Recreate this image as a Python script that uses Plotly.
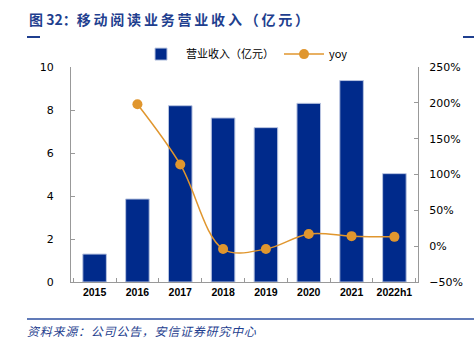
import plotly.graph_objects as go

categories = ["2015", "2016", "2017", "2018", "2019", "2020", "2021", "2022h1"]
revenue = [1.3, 3.86, 8.2, 7.63, 7.18, 8.31, 9.37, 5.04]
yoy = [None, 1.98, 1.14, -0.04, -0.04, 0.17, 0.14, 0.13]

BAR = "#002A8B"
ORANGE = "#E0962E"
FONT = "Noto Sans CJK SC"

fig = go.Figure()
fig.add_trace(go.Bar(
    x=categories, y=revenue, name="营业收入（亿元）",
    marker=dict(color=BAR, line=dict(color="#B8C4E0", width=1)),
    width=0.55, yaxis="y",
))
fig.add_trace(go.Scatter(
    x=categories, y=yoy, name="yoy", yaxis="y2",
    mode="lines+markers",
    line=dict(color=ORANGE, width=1.5, shape="spline", smoothing=1.0),
    marker=dict(color=ORANGE, size=10),
))

fig.update_layout(
    width=474, height=339,
    margin=dict(l=71, r=56, t=67, b=57),
    paper_bgcolor="white", plot_bgcolor="white",
    font=dict(family=FONT, size=11, color="#000"),
    showlegend=True,
    legend=dict(orientation="h", x=0.5, xanchor="center", y=1.06, yanchor="middle",
                font=dict(size=11), bgcolor="rgba(0,0,0,0)", itemwidth=40,
                traceorder="normal"),
    xaxis=dict(
        showline=True, linecolor="#999", linewidth=1,
        ticks="inside", ticklen=4, tickcolor="#999",
        tickson="boundaries", tickangle=0,
        tickfont=dict(size=10.5, family="Liberation Sans", color="#000", weight="bold"),
        showgrid=False, zeroline=False,
    ),
    yaxis=dict(
        range=[0, 10], dtick=2, showline=True, linecolor="#999", linewidth=1,
        ticks="inside", ticklen=4, tickcolor="#999",
        showgrid=False, zeroline=False, ticklabelstandoff=14,
        tickfont=dict(size=11, family="DejaVu Sans"),
    ),
    yaxis2=dict(
        range=[-0.5, 2.5], dtick=0.5, tickformat=".0%", overlaying="y", side="right",
        showline=True, linecolor="#999", linewidth=1,
        ticks="inside", ticklen=4, tickcolor="#999",
        showgrid=False, zeroline=False, ticklabelstandoff=8,
        tickfont=dict(size=11, family="DejaVu Sans"),
    ),
)

title_txt = "图\u00a032：" + "\u2009".join("移动阅读业务营业收入（亿元）")
fig.add_annotation(
    xref="paper", yref="paper", x=-0.0, y=1.0, xanchor="left", yanchor="bottom",
    text="<b>" + title_txt + "</b>", showarrow=False,
    font=dict(family=FONT, size=14, color="#1F3F8F"),
    xshift=-44, yshift=36,
)
source_txt = "\u200a".join("资料来源：公司公告，安信证券研究中心")
fig.add_annotation(
    xref="paper", yref="paper", x=0, y=0, xanchor="left", yanchor="top",
    text="<i>" + source_txt + "</i>", showarrow=False,
    font=dict(family=FONT, size=12, color="#1F3F8F"),
    xshift=-46, yshift=-38,
)
# decorative lines
fig.add_shape(type="line", xref="paper", yref="paper", x0=-44/347, x1=-31/347,
              y0=1 + 30/215, y1=1 + 30/215, line=dict(color="#1F3F8F", width=2))
fig.add_shape(type="line", xref="paper", yref="paper", x0=392/347, x1=403/347,
              y0=1 + 30/215, y1=1 + 30/215, line=dict(color="#1F3F8F", width=2))
fig.add_shape(type="line", xref="paper", yref="paper", x0=-44/347, x1=403/347,
              y0=-37/215, y1=-37/215, line=dict(color="#2C4FA0", width=1.5))

fig.write_html("out.html")
